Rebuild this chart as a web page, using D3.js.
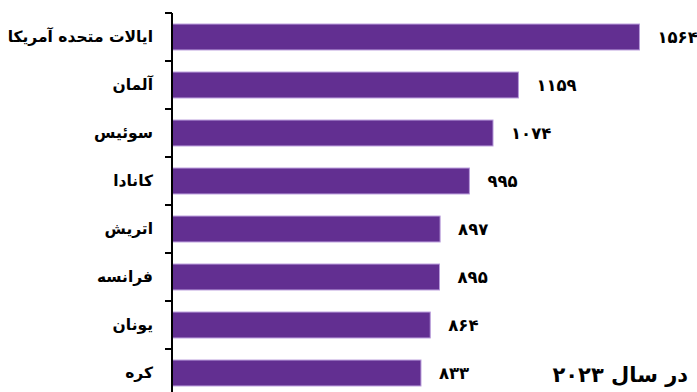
<!DOCTYPE html>
<html>
<head>
<meta charset="utf-8">
<script src="https://cdn.jsdelivr.net/npm/d3@7/dist/d3.min.js"></script>
<style>
  html, body { margin: 0; padding: 0; background: #fff; }
  svg { display: block; font-family: "DejaVu Sans", sans-serif; }
</style>
</head>
<body>
<svg id="chart" width="697" height="392"></svg>
<script>
// Countries (top to bottom) and their values for 2023
const countries = ["ایالات متحده آمریکا", "آلمان", "سوئیس", "کانادا", "اتریش", "فرانسه", "یونان", "کره"];
const values = [1564, 1159, 1074, 995, 897, 895, 864, 833];
const title = "در سال ۲۰۲۳";

// Write numbers with Persian digits
const faDigits = "۰۱۲۳۴۵۶۷۸۹";
const toFa = n => String(n).replace(/\d/g, d => faDigits[+d]);

const data = countries.map((c, i) => ({ country: c, value: values[i] }));

const svg = d3.select("#chart");

const x = d3.scaleLinear().domain([0, 1800]).range([172, 710]);
const y = d3.scaleBand()
  .domain(countries)
  .range([13, 13 + 48 * countries.length])
  .paddingInner(0.46)
  .paddingOuter(0.23);

// Bars
svg.append("g").selectAll("rect")
  .data(data)
  .join("rect")
  .attr("x", x(0))
  .attr("y", d => y(d.country))
  .attr("width", d => x(d.value) - x(0))
  .attr("height", y.bandwidth())
  .attr("fill", "#622f91")
  .attr("stroke", "#b79ada")
  .attr("stroke-width", 1);

// Category axis with ticks at band boundaries
const axisG = svg.append("g");
axisG.append("line")
  .attr("x1", x(0)).attr("x2", x(0))
  .attr("y1", 13).attr("y2", 13 + 48 * countries.length)
  .attr("stroke", "#000").attr("stroke-width", 2);
const bounds = d3.range(countries.length).map(i => y.range()[0] + y.step() * i);
axisG.selectAll("line.tick")
  .data(bounds)
  .join("line")
  .attr("class", "tick")
  .attr("x1", x(0) - 7).attr("x2", x(0))
  .attr("y1", d => d).attr("y2", d => d)
  .attr("stroke", "#000").attr("stroke-width", 2);

// Country labels
svg.append("g").selectAll("text")
  .data(data)
  .join("text")
  .attr("x", 153)
  .attr("y", d => y(d.country) + y.bandwidth() / 2)
  .attr("dy", "0.35em")
  .attr("text-anchor", "end")
  .attr("font-size", 15.5)
  .attr("font-weight", "bold")
  .attr("fill", "#000")
  .text(d => d.country);

// Value labels
svg.append("g").selectAll("text")
  .data(data)
  .join("text")
  .attr("x", d => x(d.value) + 18)
  .attr("y", d => y(d.country) + y.bandwidth() / 2)
  .attr("dy", "0.35em")
  .attr("text-anchor", "start")
  .attr("font-size", 16.5)
  .attr("font-weight", "bold")
  .attr("fill", "#000")
  .text(d => toFa(d.value));

// Year caption
svg.append("text")
  .attr("x", 688)
  .attr("y", 382)
  .attr("text-anchor", "end")
  .attr("font-size", 21)
  .attr("font-weight", "bold")
  .attr("fill", "#000")
  .text(title);
</script>
</body>
</html>
